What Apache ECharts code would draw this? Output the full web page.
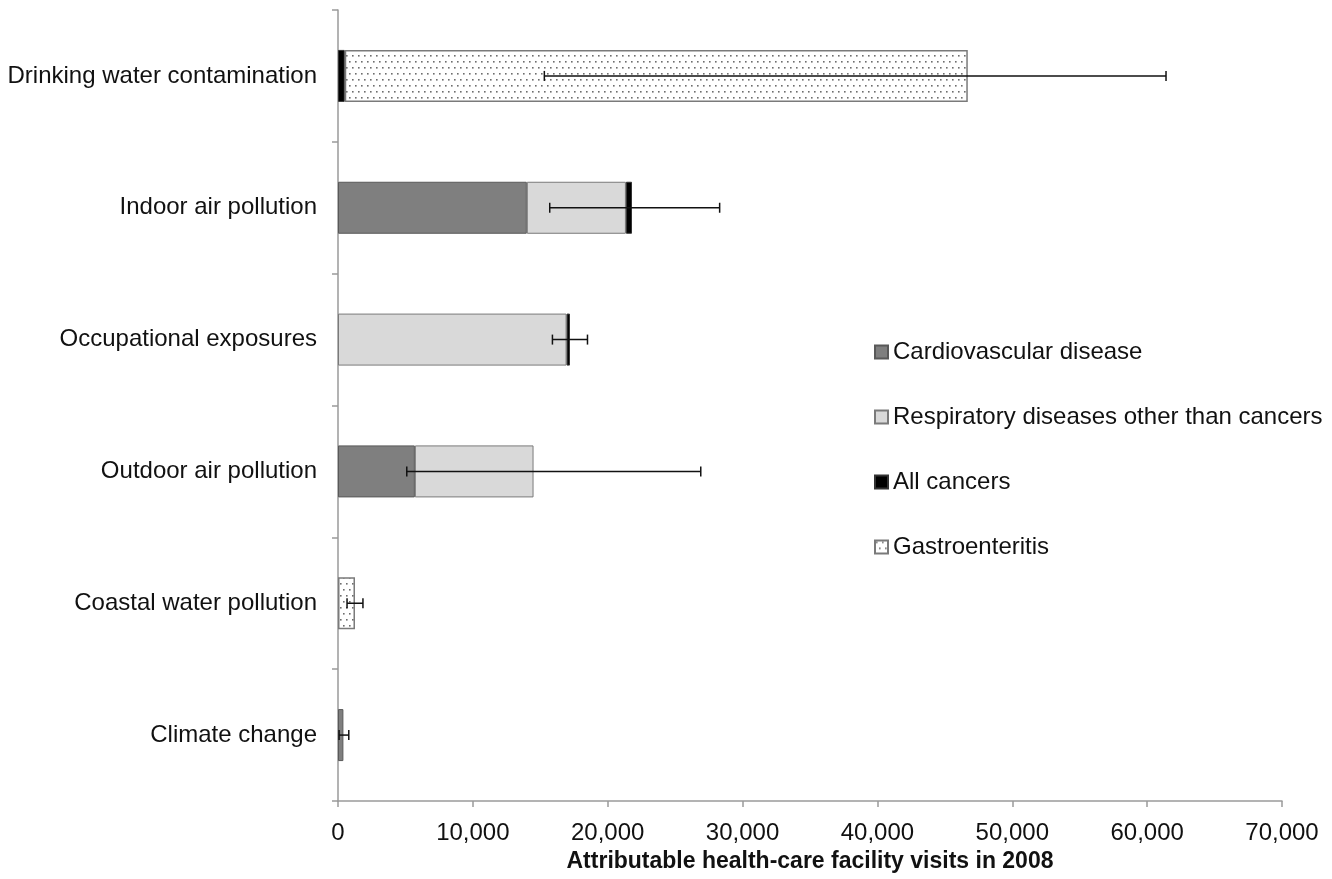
<!DOCTYPE html>
<html>
<head>
<meta charset="utf-8">
<script src="https://cdn.jsdelivr.net/npm/echarts@6/dist/echarts.min.js"></script>
<style>
html,body{margin:0;padding:0;background:#fff;}
#chart{width:1332px;height:879px;}
</style>
</head>
<body>
<div id="chart"></div>
<script>
// ---- data ----
const categories = ['Drinking water contamination','Indoor air pollution','Occupational exposures','Outdoor air pollution','Coastal water pollution','Climate change'];
const cardiovascular = [0, 14000, 0, 5700, 0, 400];
const respiratory = [0, 7350, 16950, 8800, 0, 0];
const cancers = [500, 450, 250, 0, 0, 0];
const gastroenteritis = [46200, 0, 0, 0, 1260, 0];
const errLow = [15300, 15700, 15900, 5100, 670, 80];
const errHigh = [61400, 28300, 18500, 26900, 1850, 800];
const xTicks = [0, 10000, 20000, 30000, 40000, 50000, 60000, 70000];

// ---- dotted pattern ----
const pc = document.createElement('canvas');
pc.width = 6; pc.height = 12;
const pctx = pc.getContext('2d');
pctx.fillStyle = '#ffffff';
pctx.fillRect(0, 0, 6, 12);
pctx.fillStyle = '#6e6e6e';
pctx.fillRect(1, 1, 1.6, 1.6);
pctx.fillRect(4, 7, 1.6, 1.6);
const dotted = { image: pc, repeat: 'repeat' };

const nz = arr => arr.map(v => v === 0 ? null : v);
const font = 'Liberation Sans, Arial, sans-serif';

const chart = echarts.init(document.getElementById('chart'));
const barCommon = {
  type: 'bar', stack: 'total', barWidth: 52,
};
chart.setOption({
  animation: false,
  textStyle: { fontFamily: font },
  grid: { left: 338, right: 50, top: 10, bottom: 78, containLabel: false },
  legend: {
    orient: 'vertical', left: 869, top: 335,
    itemWidth: 13, itemHeight: 13, itemGap: 41,
    textStyle: { fontSize: 24, color: '#111', fontFamily: font },
    data: ['Cardiovascular disease','Respiratory diseases other than cancers','All cancers','Gastroenteritis'],
    icon: 'rect'
  },
  xAxis: {
    type: 'value', min: xTicks[0], max: xTicks[xTicks.length-1], interval: 10000,
    name: 'Attributable health-care facility visits in 2008',
    nameLocation: 'middle', nameGap: 43,
    nameTextStyle: { fontSize: 23, fontWeight: 'bold', color: '#111', fontFamily: font },
    axisLine: { show: true, lineStyle: { color: '#9a9a9a', width: 1.5 } },
    axisTick: { show: true, length: 6, lineStyle: { color: '#9a9a9a', width: 1.5 } },
    splitLine: { show: false },
    axisLabel: { fontSize: 24, color: '#111', margin: 20, fontFamily: font,
      formatter: v => v.toLocaleString('en-US') }
  },
  yAxis: {
    type: 'category', data: categories, inverse: true,
    axisLine: { show: true, lineStyle: { color: '#9a9a9a', width: 1.5 } },
    axisTick: { show: true, length: 6, lineStyle: { color: '#9a9a9a', width: 1.5 } },
    axisLabel: { fontSize: 24, color: '#111', margin: 21, fontFamily: font }
  },
  series: [
    Object.assign({}, barCommon, { name: 'Cardiovascular disease', data: nz(cardiovascular),
      itemStyle: { color: '#7f7f7f', borderColor: '#595959', borderWidth: 1 } }),
    Object.assign({}, barCommon, { name: 'Respiratory diseases other than cancers', data: nz(respiratory),
      itemStyle: { color: '#d9d9d9', borderColor: '#7a7a7a', borderWidth: 1 } }),
    Object.assign({}, barCommon, { name: 'All cancers', data: nz(cancers),
      itemStyle: { color: '#000000', borderColor: '#333333', borderWidth: 1 } }),
    Object.assign({}, barCommon, { name: 'Gastroenteritis', data: nz(gastroenteritis),
      itemStyle: { color: dotted, borderColor: '#7a7a7a', borderWidth: 1.5 } }),
    {
      type: 'custom', name: 'error', z: 10,
      data: categories.map((c, i) => [i, errLow[i], errHigh[i]]),
      encode: { y: 0, x: [1, 2] },
      renderItem: function (params, api) {
        const cat = api.value(0);
        const p1 = api.coord([api.value(1), cat]);
        const p2 = api.coord([api.value(2), cat]);
        const h = 5;
        const st = { stroke: '#111', lineWidth: 1.5 };
        return { type: 'group', children: [
          { type: 'line', shape: { x1: p1[0], y1: p1[1], x2: p2[0], y2: p2[1] }, style: st },
          { type: 'line', shape: { x1: p1[0], y1: p1[1]-h, x2: p1[0], y2: p1[1]+h }, style: st },
          { type: 'line', shape: { x1: p2[0], y1: p2[1]-h, x2: p2[0], y2: p2[1]+h }, style: st }
        ]};
      }
    }
  ]
});
</script>
</body>
</html>
